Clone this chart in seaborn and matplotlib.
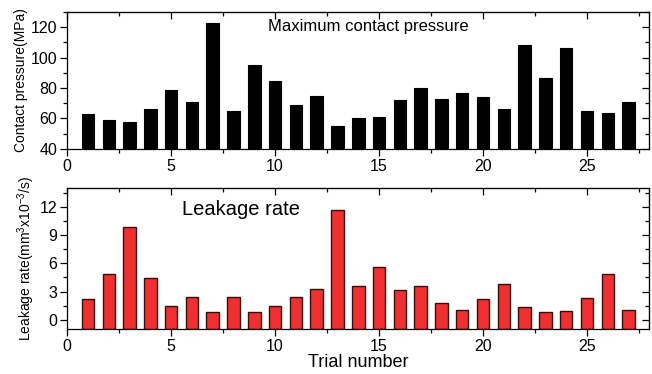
import numpy as np
import pandas as pd
import matplotlib
matplotlib.use("Agg")
import matplotlib.pyplot as plt
from matplotlib.ticker import MultipleLocator
import seaborn as sns

trials = list(range(1, 28))
pressure = [63, 59.2, 57.9, 66.4, 78.9, 71.0, 122.8, 65.1, 95.1, 84.8, 68.6, 74.8,
            55.3, 60.1, 61.2, 71.9, 80.2, 73.0, 76.9, 74.3, 66.4, 108.4, 86.8, 106.2,
            65.1, 63.8, 71.0]
leakage = [2.24, 4.86, 9.90, 4.47, 1.46, 2.45, 0.78, 2.38, 0.78, 1.49, 2.45, 3.30,
           11.68, 3.62, 5.64, 3.16, 3.55, 1.77, 1.06, 2.20, 3.80, 1.35, 0.85, 0.96,
           2.27, 4.83, 1.06]

df = pd.DataFrame({"trial": trials, "pressure": pressure, "leakage": leakage})

sns.set_style("ticks", {"axes.edgecolor": "black", "text.color": "black",
                        "xtick.color": "black", "ytick.color": "black",
                        "axes.labelcolor": "black"})
plt.rcParams['font.family'] = ['Liberation Sans', 'DejaVu Sans']
plt.rcParams['mathtext.fontset'] = 'custom'
plt.rcParams['mathtext.rm'] = 'Liberation Sans'

fig = plt.figure(figsize=(6.52, 3.74), dpi=100)
ax1 = fig.add_axes([0.103, 0.602, 0.893, 0.366])
ax2 = fig.add_axes([0.103, 0.120, 0.893, 0.377])

sns.barplot(data=df, x="trial", y="pressure", native_scale=True, width=0.6,
            color="black", edgecolor="black", linewidth=0.8, saturation=1, ax=ax1)
sns.barplot(data=df, x="trial", y="leakage", native_scale=True, width=0.6,
            color="#ee3130", edgecolor="#3a0c0c", linewidth=1.0, saturation=1, ax=ax2)

# bars in the lower panel start at the bottom of the axis
for p in ax2.patches:
    p.set_y(-1)
    p.set_height(p.get_height() + 1)

ax1.set_ylim(40, 130)
ax2.set_ylim(-1, 14)
for ax in (ax1, ax2):
    ax.set_xlim(0, 28)
    ax.xaxis.set_major_locator(MultipleLocator(5))
    ax.xaxis.set_minor_locator(MultipleLocator(2.5))
    ax.tick_params(which='major', direction='out', length=5, width=0.9, labelsize=11.5, pad=2)
    ax.tick_params(which='minor', direction='out', length=3, width=0.9)
    for s in ax.spines.values():
        s.set_linewidth(0.9)
    ax.set_xlabel("")

ax1.yaxis.set_major_locator(MultipleLocator(20))
ax1.yaxis.set_minor_locator(MultipleLocator(10))
ax2.yaxis.set_major_locator(MultipleLocator(3))
ax2.yaxis.set_minor_locator(MultipleLocator(1.5))

# mirrored ticks pointing inward on top and right
for ax in (ax1, ax2):
    top = ax.secondary_xaxis('top')
    top.xaxis.set_major_locator(MultipleLocator(5))
    top.xaxis.set_minor_locator(MultipleLocator(2.5))
    top.tick_params(which='major', direction='in', length=5, width=0.9, labeltop=False)
    top.tick_params(which='minor', direction='in', length=3, width=0.9)
    right = ax.secondary_yaxis('right')
    right.yaxis.set_major_locator(ax.yaxis.get_major_locator())
    right.yaxis.set_minor_locator(ax.yaxis.get_minor_locator())
    right.tick_params(which='major', direction='in', length=5, width=0.9, labelright=False)
    right.tick_params(which='minor', direction='in', length=3, width=0.9)

ax1.set_ylabel("Contact pressure(MPa)", fontsize=10, labelpad=2)
ax2.set_ylabel(r"Leakage rate(mm$^3$x10$^{-3}$/s)", fontsize=10, labelpad=2)
ax2.set_xlabel("Trial number", fontsize=13, labelpad=0)

ax1.text(0.345, 0.95, "Maximum contact pressure", transform=ax1.transAxes,
         fontsize=12, va='top', ha='left')
ax2.text(0.198, 0.915, "Leakage rate", transform=ax2.transAxes,
         fontsize=14.5, va='top', ha='left')

fig.savefig("out.png", dpi=100)
